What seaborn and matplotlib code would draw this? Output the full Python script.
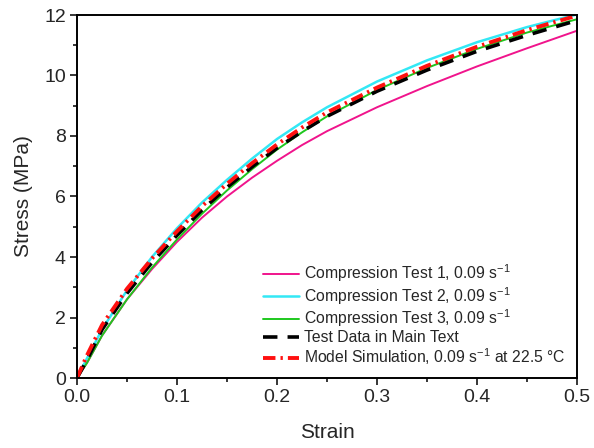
import matplotlib
matplotlib.use("Agg")
import matplotlib.pyplot as plt
import seaborn as sns
import pandas as pd
from matplotlib.ticker import MultipleLocator, FormatStrFormatter

strain = [0, 0.01, 0.025, 0.05, 0.075, 0.1, 0.125, 0.15, 0.175, 0.2, 0.225, 0.25, 0.3, 0.35, 0.4, 0.45, 0.5]
test1 = [0, 0.5, 1.4, 2.6, 3.6, 4.5, 5.3, 6.0, 6.62, 7.18, 7.7, 8.16, 8.95, 9.65, 10.3, 10.9, 11.48]
test2 = [0, 0.65, 1.6, 2.9, 4.0, 4.95, 5.8, 6.55, 7.25, 7.9, 8.45, 8.95, 9.8, 10.5, 11.1, 11.6, 12.02]
test3 = [0, 0.5, 1.4, 2.6, 3.65, 4.58, 5.43, 6.2, 6.9, 7.55, 8.12, 8.65, 9.52, 10.25, 10.88, 11.42, 11.86]
main_text = [0, 0.6, 1.6, 2.8, 3.82, 4.72, 5.55, 6.3, 6.98, 7.6, 8.15, 8.65, 9.48, 10.18, 10.8, 11.33, 11.82]
model = [0, 0.75, 1.75, 2.95, 3.95, 4.85, 5.68, 6.42, 7.1, 7.72, 8.28, 8.78, 9.6, 10.32, 10.95, 11.5, 11.98]

labels = [
    r"Compression Test 1, 0.09 s$^{-1}$",
    r"Compression Test 2, 0.09 s$^{-1}$",
    r"Compression Test 3, 0.09 s$^{-1}$",
    "Test Data in Main Text",
    r"Model Simulation, 0.09 s$^{-1}$ at 22.5 °C",
]

sns.set_style("ticks")
plt.rcParams["font.family"] = ["Liberation Sans", "DejaVu Sans"]
plt.rcParams["mathtext.fontset"] = "custom"
plt.rcParams["mathtext.rm"] = "Liberation Sans"
plt.rcParams["mathtext.it"] = "Liberation Sans"
plt.rcParams["mathtext.default"] = "regular"

fig = plt.figure(figsize=(5.94, 4.48), dpi=100)
ax = fig.add_axes([77/594, 1-378/448, 500/594, 363/448])

styles = [
    dict(color="#F0148C", lw=1.4),
    dict(color="#33E8F5", lw=1.8),
    dict(color="#1EC81E", lw=1.4),
    dict(color="black", lw=2.6, dashes=(4, 2.8)),
    dict(color="#FF1010", lw=2.8, dashes=(3.2, 1.3, 0.6, 1.3)),
]
series = [test1, test2, test3, main_text, model]
for vals, lab, st in zip(series, labels, styles):
    df = pd.DataFrame({"Strain": strain, "Stress": vals})
    st = dict(st)
    d = st.pop("dashes", None)
    sns.lineplot(data=df, x="Strain", y="Stress", ax=ax, label=lab, **st)
    if d is not None:
        ax.lines[-1].set_dashes(d)

ax.set_xlim(0, 0.5)
ax.set_ylim(0, 12)
ax.xaxis.set_major_locator(MultipleLocator(0.1))
ax.xaxis.set_minor_locator(MultipleLocator(0.05))
ax.yaxis.set_major_locator(MultipleLocator(2))
ax.yaxis.set_minor_locator(MultipleLocator(1))
ax.xaxis.set_major_formatter(FormatStrFormatter("%.1f"))
ax.yaxis.set_major_formatter(FormatStrFormatter("%d"))
ax.tick_params(which="major", direction="out", length=5, width=1.3, labelsize=14, top=False, right=False, pad=3)
ax.tick_params(which="minor", direction="out", length=3, width=1.3, top=False, right=False)
for sp in ax.spines.values():
    sp.set_linewidth(1.4)
    sp.set_visible(True)
    sp.set_color("black")
ax.set_xlabel("Strain", fontsize=15, labelpad=12)
ax.set_ylabel("Stress (MPa)", fontsize=15, labelpad=8)

leg = ax.legend(loc="lower right", frameon=False, fontsize=11.3, handlelength=2.3,
                handletextpad=0.35, labelspacing=0.06, borderaxespad=0.3)
fig.savefig("out.png", dpi=100)
